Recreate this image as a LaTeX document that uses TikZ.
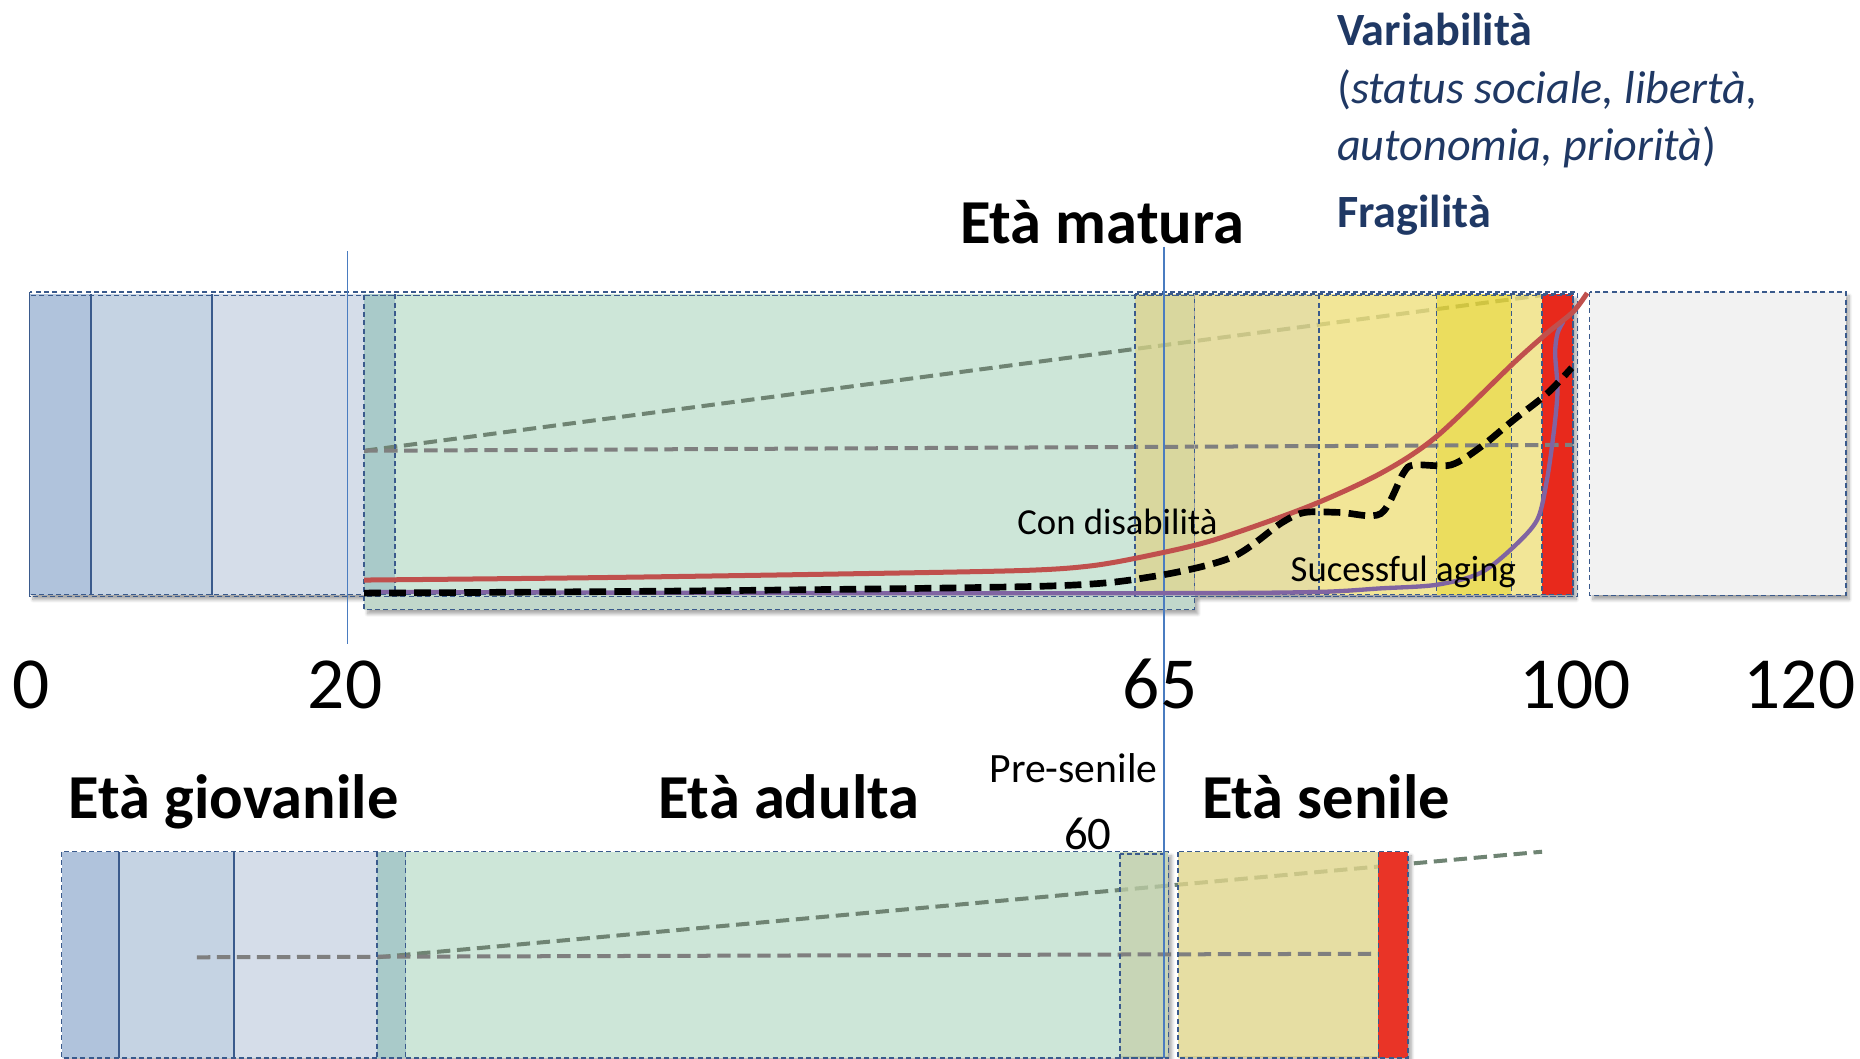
\documentclass[tikz,border=0pt]{standalone}
\usepackage{fontspec}
\setmainfont{Carlito}
\usetikzlibrary{positioning,shadows.blur}
\definecolor{ageBlueA}{RGB}{176,195,220}
\definecolor{ageBlueB}{RGB}{197,211,227}
\definecolor{ageBlueC}{RGB}{213,221,233}
\definecolor{ageTeal}{RGB}{169,202,201}
\definecolor{ageGreen}{RGB}{205,230,216}
\definecolor{ageKhakiGreen}{RGB}{208,206,134}
\definecolor{ageKhakiLow}{RGB}{186,203,164}
\definecolor{ageKhaki}{RGB}{224,214,141}
\definecolor{agePale}{RGB}{239,224,126}
\definecolor{ageYellow}{RGB}{231,213,54}
\definecolor{ageRed}{RGB}{232,41,28}
\definecolor{ageGrey}{RGB}{242,242,242}
\definecolor{edgeBlue}{RGB}{58,90,140}
\definecolor{guideBlue}{RGB}{74,124,192}
\definecolor{noteBlue}{RGB}{31,56,100}
\definecolor{curveRed}{RGB}{192,80,77}
\definecolor{curvePurple}{RGB}{128,100,162}
\definecolor{slantGrey}{RGB}{111,132,115}
\definecolor{levelGrey}{RGB}{127,127,127}
\tikzset{
  coledge/.style={draw=edgeBlue, densely dashed, line width=0.9pt},
  solidedge/.style={draw=edgeBlue, line width=1.3pt},
  guideline/.style={draw=guideBlue, line width=1pt},
  barshadow/.style={fill=white, blur shadow={shadow xshift=2pt, shadow yshift=-2.5pt, shadow blur steps=8, shadow opacity=35}},
  slantline/.style={draw=slantGrey, line width=2.4pt, dash pattern=on 8pt off 4pt},
  levelline/.style={draw=levelGrey, line width=2.4pt, dash pattern=on 8pt off 4pt},
  agelabel/.style={font=\fontsize{37.5}{40}\selectfont\bfseries, inner sep=0pt, anchor=base},
  axislabel/.style={font=\fontsize{44}{48}\selectfont, inner sep=0pt, anchor=base},
  curvelabel/.style={font=\fontsize{22}{26}\selectfont, inner sep=0pt, anchor=base},
  smalllabel/.style={font=\fontsize{25}{28}\selectfont, inner sep=0pt, anchor=base},
  notelabel/.style={font=\fontsize{27.7}{32}\selectfont, text=noteBlue, inner sep=0pt, anchor=base west}
}

\begin{document}
\begin{tikzpicture}[x=0.025cm, y=-0.025cm]
\useasboundingbox (0,0) rectangle (1568,892);

% top bar: life span 0-120
\path[barshadow] (25,248) rectangle (1326,502);
\path[barshadow] (1340,246) rectangle (1556,502);
\path[barshadow] (307,502) rectangle (1007,514);
\foreach \xa/\xb/\col in {25/77/ageBlueA, 77/179/ageBlueB, 179/307/ageBlueC, 307/333/ageTeal, 333/957/ageGreen}
  \fill[\col] (\xa,248) rectangle (\xb,502);
\fill[ageGreen!85!gray] (307,502) rectangle (1007,514);
\fill[ageGrey] (1340,246) rectangle (1556,502);
\draw[slantline] (307,380) -- (1299,249);
\foreach \xa/\xb/\col in {957/1007/ageKhakiGreen, 1007/1112/ageKhaki, 1112/1211/agePale, 1211/1274/ageYellow, 1274/1300/agePale}
  \fill[\col, fill opacity=0.8] (\xa,248) rectangle (\xb,502);
\fill[ageRed] (1300,248) rectangle (1326,502);
\draw[levelline] (307,380) -- (1326,375);

% borders
\draw[coledge] (25,246) rectangle (1330,503);
\draw[coledge] (25,249) rectangle (1326,501);
\draw[coledge] (307,249) rectangle (1007,514);
\draw[coledge] (957,248) rectangle (1326,503);
\draw[coledge] (1340,246) rectangle (1556,502);
\foreach \xx in {77,179}
  \draw[solidedge] (\xx,248) -- (\xx,502);
\foreach \xx in {333,1112,1211,1274,1300}
  \draw[coledge] (\xx,248) -- (\xx,502);
\draw[draw=gray!70, densely dashed, line width=0.8pt] (1007,248) -- (1007,502);

% lower bar: age phases
\path[barshadow] (52,718) rectangle (985,890);
\path[barshadow] (993,718) rectangle (1187,890);
\foreach \xa/\xb/\col in {52/100/ageBlueA, 100/197/ageBlueB, 197/318/ageBlueC, 318/342/ageTeal, 342/944/ageGreen}
  \fill[\col] (\xa,718) rectangle (\xb,892);
\draw[slantline] (318,807) -- (1300,718);
\fill[ageKhakiLow, fill opacity=0.8] (944,718) rectangle (985,892);
\fill[ageKhaki, fill opacity=0.8] (993,718) rectangle (1162,892);
\fill[ageRed!95!white] (1162,718) rectangle (1187,892);
\draw[levelline] (166,807) -- (1162,804);
\draw[coledge] (52,718) rectangle (985,892);
\draw[coledge] (944,720) rectangle (981,892);
\draw[coledge] (993,718) rectangle (1187,892);
\foreach \xx in {100,197}
  \draw[solidedge] (\xx,718) -- (\xx,892);
\foreach \xx in {318,342,1162}
  \draw[coledge] (\xx,718) -- (\xx,892);

% vertical guides
\coordinate (g20top) at (293,212);
\coordinate (g20bot) at (293,543);
\coordinate (g65top) at (981,208);
\coordinate (g65bot) at (981,892);
\draw[guideline] (g20top) -- (g20bot);
\draw[guideline] (g65top) -- (g65bot);

% curves
\draw[curvePurple, line width=2.6pt] plot[smooth, tension=0.5] coordinates {(307,499) (700,500) (1000,500) (1112,499) (1164,496) (1211,493) (1248,483) (1276,461) (1296,438) (1304,405) (1310,363) (1313,329) (1311,298) (1313,281) (1318,271)};
\draw[curveRed, line width=3pt] plot[smooth, tension=0.5] coordinates {(307,489) (500,487) (700,484) (860,481) (920,477) (970,468) (1024,455) (1103,427) (1164,399) (1211,368) (1276,306) (1304,281) (1326,263) (1338,247)};
\draw[black, line width=4pt, dash pattern=on 10pt off 5pt] plot[smooth, tension=0.5] coordinates {(307,500) (600,498) (885,494) (972,486) (1038,470) (1080,441) (1100,432) (1130,432) (1164,433) (1183,399) (1192,392) (1223,392) (1248,377) (1276,354) (1304,332) (1325,310)};

% labels
\node[agelabel] (matura) at (929,205) {Età matura};
\node[notelabel, font=\fontsize{27.7}{32}\selectfont\bfseries] (variab) at (1127,38) {Variabilità};
\node[notelabel] (status) at (1127,87) {(\textit{status sociale, libertà,}};
\node[notelabel] (autonom) at (1127,135) {\textit{autonomia, priorità})};
\node[notelabel, font=\fontsize{27.7}{32}\selectfont\bfseries] (fragil) at (1127,192) {Fragilità};
\node[curvelabel] (condis) at (942,451) {Con disabilità};
\node[curvelabel] (sucess) at (1183,490) {Sucessful aging};
\node[axislabel] (lab0) at (26,597) {0};
\node[axislabel] (lab20) at (291,597) {20};
\node[axislabel] (lab65) at (978,597) {65};
\node[axislabel] (lab100) at (1328,597) {100};
\node[axislabel] (lab120) at (1517,597) {120};
\node[agelabel] (giovanile) at (197,690) {Età giovanile};
\node[agelabel] (adulta) at (665,690) {Età adulta};
\node[agelabel] (senile) at (1118,690) {Età senile};
\node[smalllabel] (presenile) at (905,660) {Pre-senile};
\node[smalllabel, font=\fontsize{28}{30}\selectfont] (sessanta) at (917,716) {60};
\end{tikzpicture}
\end{document}
